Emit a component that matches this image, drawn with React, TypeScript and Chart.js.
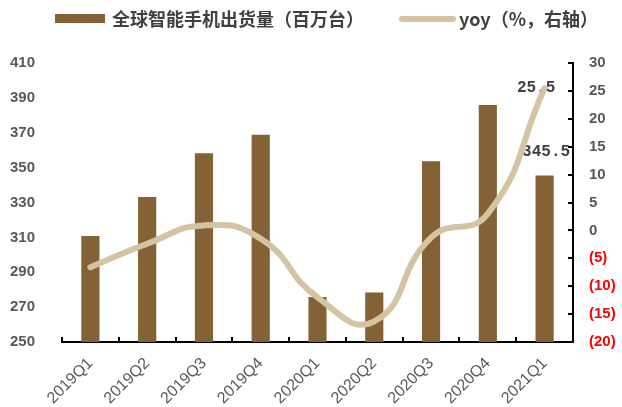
import React, { useEffect, useRef } from 'react';
import { Chart, registerables } from 'chart.js';

Chart.register(...registerables);

const categories = ['2019Q1', '2019Q2', '2019Q3', '2019Q4', '2020Q1', '2020Q2', '2020Q3', '2020Q4', '2021Q1'];
const shipments = [310.8, 333.2, 358.3, 368.8, 275.8, 278.4, 353.6, 385.9, 345.5];
const yoy = [-6.6, -2.4, 0.9, -1.5, -12.0, -16.3, -1.3, 3.0, 25.5];
const leftAxis = { min: 250, max: 410, step: 20 };
const rightAxis = { min: -20, max: 30, step: 5 };
const legendLabels = ['全球智能手机出货量（百万台）', 'yoy（%，右轴）'];
const barLabel = '345.5';
const lineLabel = '25.5';

const BAR_COLOR = '#846235';
const LINE_COLOR = '#D4C4A2';
const TICK_GRAY = '#595959';
const TEXT_DARK = '#404040';
const SANS = "'Liberation Sans', Arial, sans-serif";
const CJK = "'Noto Sans CJK SC', 'Liberation Sans', sans-serif";
const MONO = "'Liberation Mono', 'Courier New', monospace";

const decorPlugin = {
  id: 'decor',
  beforeDatasetsDraw(chart: any) {
    const { ctx } = chart;
    ctx.save();
    ctx.fillStyle = TEXT_DARK;
    ctx.font = `bold 16px ${MONO}`;
    ctx.textAlign = 'center';
    ctx.textBaseline = 'middle';
    const barMeta = chart.getDatasetMeta(0);
    const last = barMeta.data[barMeta.data.length - 1];
    ctx.fillText(barLabel, last.x + 1.5, last.y - 24);
    const lineMeta = chart.getDatasetMeta(1);
    const lp = lineMeta.data[lineMeta.data.length - 1];
    ctx.fillText(lineLabel, lp.x - 8.5, lp.y);
    ctx.restore();
  },
  afterDraw(chart: any) {
    const { ctx, chartArea } = chart;
    const { left, right, bottom } = chartArea;
    const y1 = chart.scales.y1;
    ctx.save();
    ctx.strokeStyle = '#000';
    ctx.lineWidth = 2;
    const n = categories.length;
    for (let i = 0; i <= n; i++) {
      const px = Math.round(left + (i * (right - left)) / n);
      ctx.beginPath();
      ctx.moveTo(px, bottom);
      ctx.lineTo(px, bottom - 5);
      ctx.stroke();
    }
    y1.ticks.forEach((t: any) => {
      const py = Math.round(y1.getPixelForValue(t.value));
      ctx.beginPath();
      ctx.moveTo(right, py);
      ctx.lineTo(right - 5, py);
      ctx.stroke();
    });
    // legend
    ctx.fillStyle = BAR_COLOR;
    ctx.fillRect(55, 14, 50, 9);
    ctx.fillStyle = TEXT_DARK;
    ctx.font = `bold 18px ${CJK}`;
    ctx.textAlign = 'left';
    ctx.textBaseline = 'middle';
    ctx.fillText(legendLabels[0], 112, 19);
    ctx.strokeStyle = LINE_COLOR;
    ctx.lineWidth = 6;
    ctx.lineCap = 'round';
    ctx.beginPath();
    ctx.moveTo(402, 19);
    ctx.lineTo(453, 19);
    ctx.stroke();
    ctx.fillText(legendLabels[1], 459, 19);
    ctx.restore();
  },
};

export default function App() {
  const ref = useRef<HTMLCanvasElement>(null);
  useEffect(() => {
    document.body.style.margin = '0';
    document.body.style.overflow = 'hidden';
    if (!ref.current) return;
    const chart = new Chart(ref.current, {
      type: 'bar',
      data: {
        labels: categories,
        datasets: [
          {
            type: 'bar',
            label: legendLabels[0],
            data: shipments,
            backgroundColor: BAR_COLOR,
            yAxisID: 'y',
            barPercentage: 0.32,
            categoryPercentage: 1,
            order: 1,
          },
          {
            type: 'line',
            label: legendLabels[1],
            data: yoy,
            borderColor: LINE_COLOR,
            backgroundColor: LINE_COLOR,
            borderWidth: 6,
            borderCapStyle: 'round',
            borderJoinStyle: 'round',
            pointRadius: 0,
            tension: 0.5,
            yAxisID: 'y1',
            order: 0,
          } as any,
        ],
      },
      options: {
        animation: false,
        responsive: false,
        devicePixelRatio: 1,
        layout: { padding: { top: 63, left: 0, right: 0, bottom: 0 } },
        plugins: { legend: { display: false }, tooltip: { enabled: false } },
        scales: {
          x: {
            offset: true,
            grid: { display: false, drawTicks: false },
            border: { display: true, color: '#000', width: 2 },
            ticks: {
              minRotation: 45,
              maxRotation: 45,
              autoSkip: false,
              color: TICK_GRAY,
              font: { family: SANS, size: 16 },
              padding: 12,
            },
            afterFit: (s: any) => {
              s.height = 65;
            },
          },
          y: {
            position: 'left',
            min: leftAxis.min,
            max: leftAxis.max,
            grid: { display: false, drawTicks: false },
            border: { display: false },
            ticks: {
              stepSize: leftAxis.step,
              color: TICK_GRAY,
              font: { family: SANS, size: 15, weight: 'bold' },
              padding: 27,
            },
            afterFit: (s: any) => {
              s.width = 62;
            },
          },
          y1: {
            position: 'right',
            min: rightAxis.min,
            max: rightAxis.max,
            grid: { display: false, drawTicks: false },
            border: { display: true, color: '#000', width: 2 },
            ticks: {
              stepSize: rightAxis.step,
              color: (c: any) => (c.tick && c.tick.value < 0 ? '#FF0000' : TICK_GRAY),
              font: { family: SANS, size: 15, weight: 'bold' },
              padding: 16,
              callback: (v: any) => (v < 0 ? `(${-v})` : `${v}`),
            },
            afterFit: (s: any) => {
              s.width = 49;
            },
          },
        },
      } as any,
      plugins: [decorPlugin],
    });
    return () => chart.destroy();
  }, []);
  return (
    <div style={{ width: 622, height: 407 }}>
      <canvas ref={ref} width={622} height={407} style={{ display: 'block' }} />
    </div>
  );
}
